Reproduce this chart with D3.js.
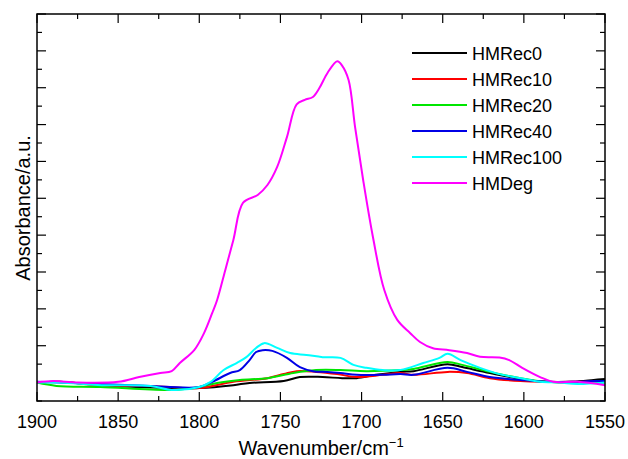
<!DOCTYPE html>
<html>
<head>
<meta charset="utf-8">
<script src="https://cdn.jsdelivr.net/npm/d3@7/dist/d3.min.js"></script>
<style>
	body { margin: 0; background: #fff; }
	svg text { font-family: "Liberation Sans", Arial, Helvetica, sans-serif; fill: #000; }
</style>
</head>
<body>
<div class="js-ftir-chart"></div>
<script>
// wavenumber (cm-1), absorbance (a.u.)
var seriesNames = ['HMRec0', 'HMRec10', 'HMRec20', 'HMRec40', 'HMRec100', 'HMDeg'];
var seriesColors = ['#000000', '#ff0000', '#00e600', '#0000e6', '#00ffff', '#ff00ff'];

var hmRec0 = [[1900, 0.000], [1886, 0.002], [1861, -0.007], [1818, -0.015], [1800, -0.015], [1779, -0.007], [1769, -0.001], [1748, 0.004], [1738, 0.015], [1724, 0.015], [1712, 0.012], [1703, 0.012], [1691, 0.021], [1676, 0.029], [1668, 0.031], [1647, 0.050], [1638, 0.042], [1621, 0.026], [1602, 0.010], [1586, 0.002], [1570, 0.002], [1557, 0.007], [1550, 0.010]];
var hmRec10 = [[1900, 0.000], [1886, 0.002], [1861, -0.007], [1830, -0.009], [1800, -0.015], [1779, 0.002], [1758, 0.012], [1748, 0.023], [1740, 0.031], [1728, 0.029], [1715, 0.023], [1703, 0.015], [1687, 0.021], [1676, 0.026], [1668, 0.021], [1647, 0.029], [1635, 0.026], [1621, 0.012], [1602, 0.004], [1586, 0.002], [1565, 0.002], [1550, 0.002]];
var hmRec20 = [[1900, 0.000], [1888, -0.009], [1861, -0.012], [1817, -0.020], [1800, -0.012], [1789, -0.001], [1775, 0.007], [1758, 0.012], [1742, 0.026], [1728, 0.034], [1713, 0.034], [1697, 0.031], [1676, 0.034], [1668, 0.037], [1647, 0.056], [1638, 0.048], [1621, 0.029], [1602, 0.012], [1586, 0.002], [1565, 0.000], [1550, 0.000]];
var hmRec40 = [[1900, 0.002], [1861, -0.004], [1830, -0.009], [1818, -0.012], [1800, -0.012], [1792, 0.002], [1781, 0.026], [1775, 0.034], [1769, 0.061], [1765, 0.083], [1761, 0.088], [1755, 0.086], [1746, 0.067], [1738, 0.042], [1730, 0.031], [1721, 0.029], [1713, 0.026], [1703, 0.021], [1687, 0.021], [1676, 0.023], [1668, 0.021], [1647, 0.040], [1635, 0.029], [1621, 0.015], [1602, 0.007], [1586, 0.002], [1570, 0.002], [1557, 0.004], [1550, 0.004]];
var hmRec100 = [[1900, 0.000], [1886, 0.000], [1860, -0.007], [1830, -0.009], [1817, -0.020], [1800, -0.012], [1793, 0.002], [1785, 0.034], [1777, 0.053], [1771, 0.069], [1765, 0.094], [1760, 0.107], [1752, 0.094], [1744, 0.080], [1734, 0.075], [1724, 0.069], [1713, 0.067], [1705, 0.048], [1697, 0.040], [1687, 0.034], [1676, 0.034], [1662, 0.053], [1652, 0.067], [1647, 0.078], [1639, 0.061], [1627, 0.040], [1615, 0.023], [1602, 0.012], [1590, 0.002], [1578, 0.000], [1567, -0.004], [1550, 0.000]];
var hmDeg = [[1900, 0.000], [1890, 0.004], [1875, 0.000], [1850, 0.002], [1837, 0.015], [1824, 0.026], [1817, 0.031], [1812, 0.053], [1803, 0.089], [1797, 0.135], [1792, 0.189], [1789, 0.224], [1784, 0.305], [1779, 0.387], [1773, 0.488], [1764, 0.509], [1758, 0.536], [1752, 0.585], [1746, 0.666], [1740, 0.755], [1735, 0.767], [1730, 0.775], [1726, 0.799], [1721, 0.840], [1715, 0.872], [1712, 0.860], [1708, 0.821], [1704, 0.693], [1699, 0.549], [1693, 0.395], [1686, 0.251], [1678, 0.170], [1670, 0.134], [1664, 0.110], [1656, 0.093], [1646, 0.088], [1635, 0.080], [1627, 0.070], [1615, 0.068], [1609, 0.061], [1601, 0.040], [1590, 0.015], [1582, 0.002], [1567, 0.002], [1550, -0.007]];

var seriesValues = [hmRec0, hmRec10, hmRec20, hmRec40, hmRec100, hmDeg];

var xTicks = [1900, 1850, 1800, 1750, 1700, 1650, 1600, 1550];

drawChart('.js-ftir-chart');

function drawChart(element) {
	var svg = d3.select(element).append('svg')
			.attr('width', 628)
			.attr('height', 459),
		margin = {
			top: 14,
			right: 23,
			bottom: 58,
			left: 37
		},
		width = 628 - margin.left - margin.right,
		height = 459 - margin.top - margin.bottom,
		g = svg.append('g').attr('transform', 'translate(' + margin.left + ',' + margin.top + ')');

	var x = d3.scaleLinear()
		.domain([1900, 1550])
		.range([0, width]);

	var y = d3.scaleLinear()
		.domain([-0.05, 1.0])
		.range([height, 0]);

	var minorX = d3.range(1900, 1549, -25),
		majorY = d3.range(0, 1.001, 0.1),
		minorY = d3.range(-0.05, 1.0, 0.1);

	// ticks pointing inward on all four sides
	var ticks = g.append('g').attr('class', 'ticks')
		.attr('stroke', '#000')
		.attr('stroke-width', 1.2);

	minorX.forEach(function(v) {
		var len = xTicks.indexOf(v) > -1 ? 9 : 5;
		ticks.append('line').attr('x1', x(v)).attr('x2', x(v)).attr('y1', height).attr('y2', height - len);
		ticks.append('line').attr('x1', x(v)).attr('x2', x(v)).attr('y1', 0).attr('y2', len);
	});
	majorY.concat(minorY).forEach(function(v, i) {
		var len = i < majorY.length ? 9 : 5;
		ticks.append('line').attr('x1', 0).attr('x2', len).attr('y1', y(v)).attr('y2', y(v));
		ticks.append('line').attr('x1', width).attr('x2', width - len).attr('y1', y(v)).attr('y2', y(v));
	});

	g.append('g')
		.attr('class', 'axis')
		.attr('transform', 'translate(0,' + height + ')')
		.selectAll('text')
		.data(xTicks)
		.enter()
		.append('text')
		.attr('x', function(d) { return x(d); })
		.attr('y', 27)
		.attr('text-anchor', 'middle')
		.style('font-size', '18px')
		.text(function(d) { return d; });

	var line = d3.line()
		.x(function(d) { return x(d[0]); })
		.y(function(d) { return y(d[1]); })
		.curve(d3.curveCatmullRom.alpha(0.5));

	g.append('g')
		.selectAll('path')
		.data(seriesValues)
		.enter()
		.append('path')
		.attr('fill', 'none')
		.attr('stroke', function(d, i) { return seriesColors[i]; })
		.attr('stroke-width', 2)
		.attr('stroke-linejoin', 'round')
		.attr('d', line);

	g.append('rect')
		.attr('width', width)
		.attr('height', height)
		.attr('fill', 'none')
		.attr('stroke', '#000')
		.attr('stroke-width', 1.5);

	var legend = svg.append('g').attr('class', 'legend')
		.selectAll('g')
		.data(seriesNames)
		.enter()
		.append('g')
		.attr('transform', function(d, i) { return 'translate(412,' + (53 + i * 26) + ')'; });

	legend.append('line')
		.attr('x1', 0)
		.attr('x2', 55)
		.attr('stroke', function(d, i) { return seriesColors[i]; })
		.attr('stroke-width', 2);

	legend.append('text')
		.attr('x', 60)
		.attr('y', 6.5)
		.style('font-size', '18px')
		.text(function(d) { return d; });

	var xTitle = svg.append('text')
		.attr('x', 321)
		.attr('y', 455)
		.attr('text-anchor', 'middle')
		.style('font-size', '20px');
	xTitle.append('tspan').text('Wavenumber/cm');
	xTitle.append('tspan')
		.attr('dy', -8)
		.style('font-size', '13px')
		.text('\u22121');

	svg.append('text')
		.attr('transform', 'translate(30,208) rotate(-90)')
		.attr('text-anchor', 'middle')
		.style('font-size', '20px')
		.text('Absorbance/a.u.');
}
</script>
</body>
</html>
